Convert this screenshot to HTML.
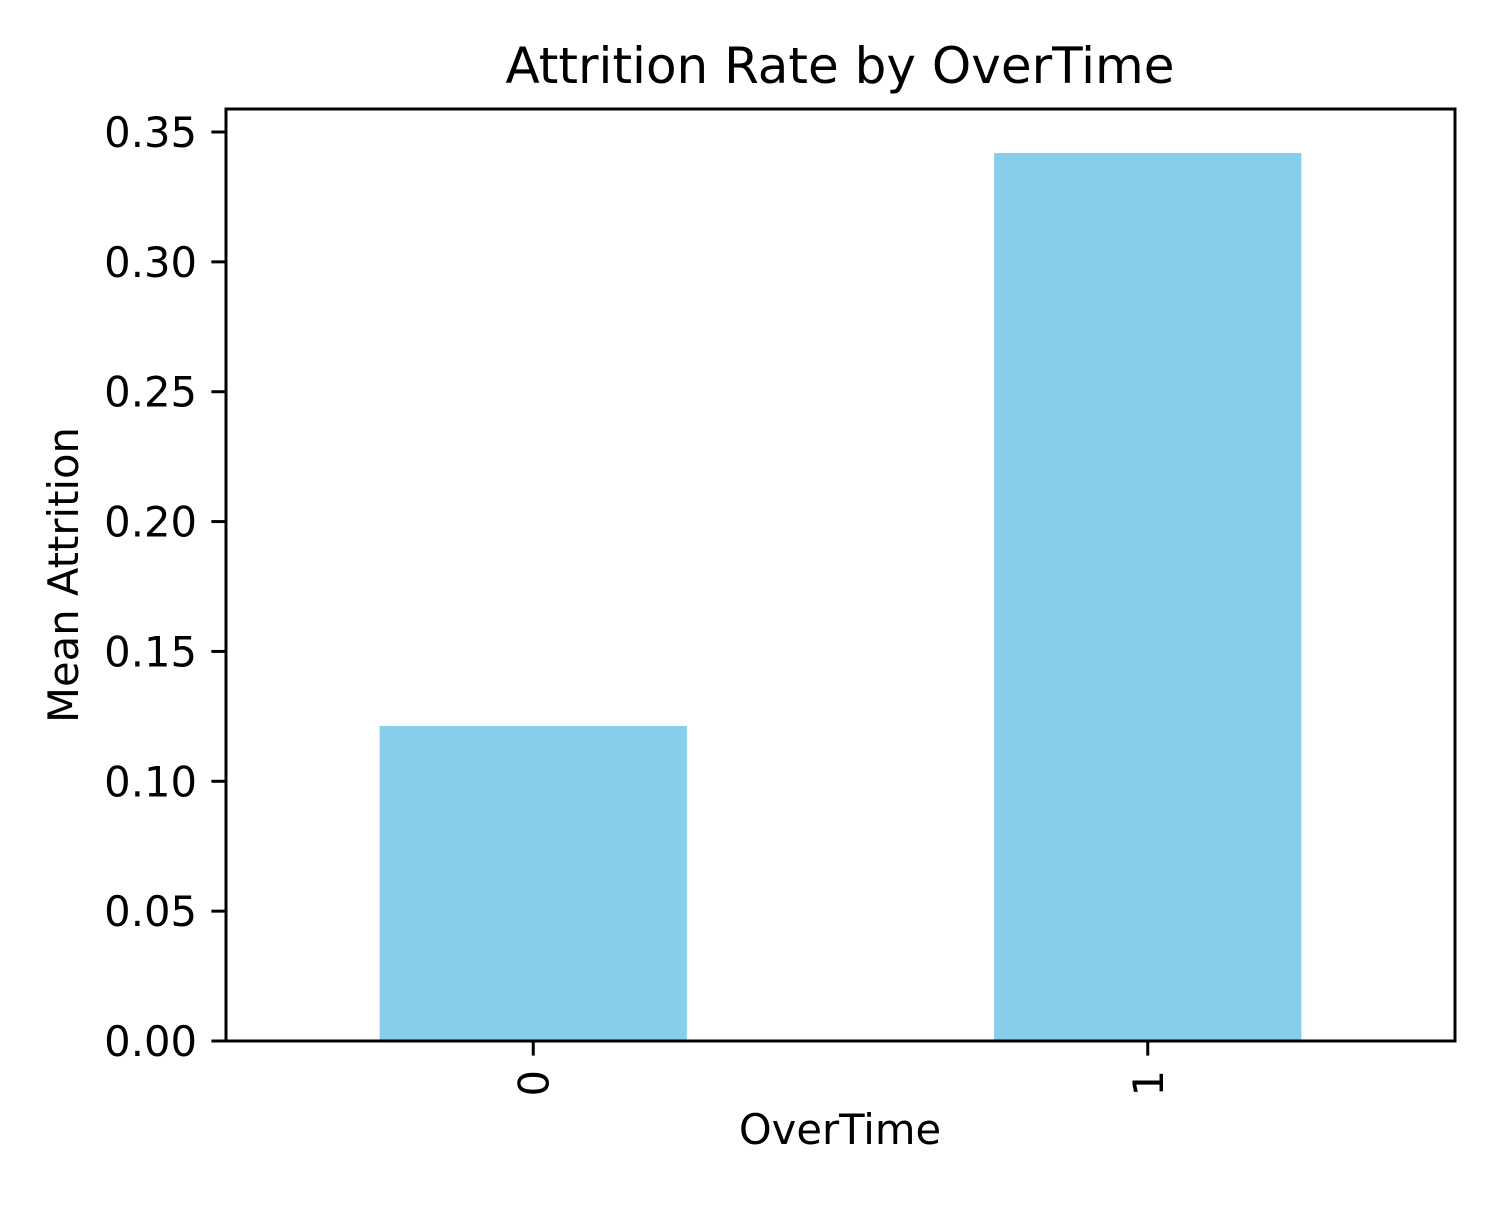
<!DOCTYPE html>
<html><head><meta charset="utf-8"><style>
body{margin:0;background:#fff}
svg text{font-family:"DejaVu Sans","Liberation Sans",sans-serif;fill:#000}
</style></head><body>
<svg id="chart" width="1500" height="1200" viewBox="0 0 1500 1200" xmlns="http://www.w3.org/2000/svg">
<rect width="1500" height="1200" fill="#fff"/>
<text x="840" y="83" font-size="50" text-anchor="middle">Attrition Rate by OverTime</text>
<g id="bars"></g>
<g id="yticks"></g>
<g id="xticks"></g>
<rect x="226" y="109" width="1229" height="932" fill="none" stroke="#000" stroke-width="3"/>
<text x="840" y="1144" font-size="41.7" text-anchor="middle">OverTime</text>
<text transform="translate(78,575) rotate(-90)" font-size="41.7" text-anchor="middle">Mean Attrition</text>
</svg>
<script>
const categories = ["0", "1"];
const attritionValues = [0.1213, 0.3419];
const yTickLabels = ["0.00","0.05","0.10","0.15","0.20","0.25","0.30","0.35"];
const yTickValues = [0,0.05,0.10,0.15,0.20,0.25,0.30,0.35];

const L=226,R=1455,B=1041,Y35=132;
function y(v){return B-(B-Y35)*v/0.35;}
function x(i){return L+(R-L)*(i+0.5)/categories.length;}
const bw=(R-L)/categories.length*0.5;
const NS="http://www.w3.org/2000/svg";
function mk(t,a,p){const e=document.createElementNS(NS,t);for(const k in a)e.setAttribute(k,a[k]);p.appendChild(e);return e;}
const bars=document.getElementById('bars'),yt=document.getElementById('yticks'),xt=document.getElementById('xticks');
attritionValues.forEach((v,i)=>{
  const r=mk('rect',{x:x(i)-bw/2,y:y(v),width:bw,height:B-y(v),fill:'#87ceeb'},bars);
  
  
});
yTickValues.forEach((v,i)=>{
  const l=mk('line',{x1:L-14.6,x2:L,y1:y(v),y2:y(v),stroke:'#000','stroke-width':3},yt);
  
  
  const t=mk('text',{x:L-29,y:y(v)+15,'font-size':41.7,'text-anchor':'end'},yt);
  t.textContent=yTickLabels[i];
  
  
});
categories.forEach((c,i)=>{
  const l=mk('line',{x1:x(i),x2:x(i),y1:B,y2:B+14.6,stroke:'#000','stroke-width':3},xt);
  
  
  const t=mk('text',{transform:`translate(${x(i)+15},${B+29}) rotate(-90)`,'font-size':41.7,'text-anchor':'end'},xt);
  t.textContent=c;
  
  
});
</script>
</body></html>
